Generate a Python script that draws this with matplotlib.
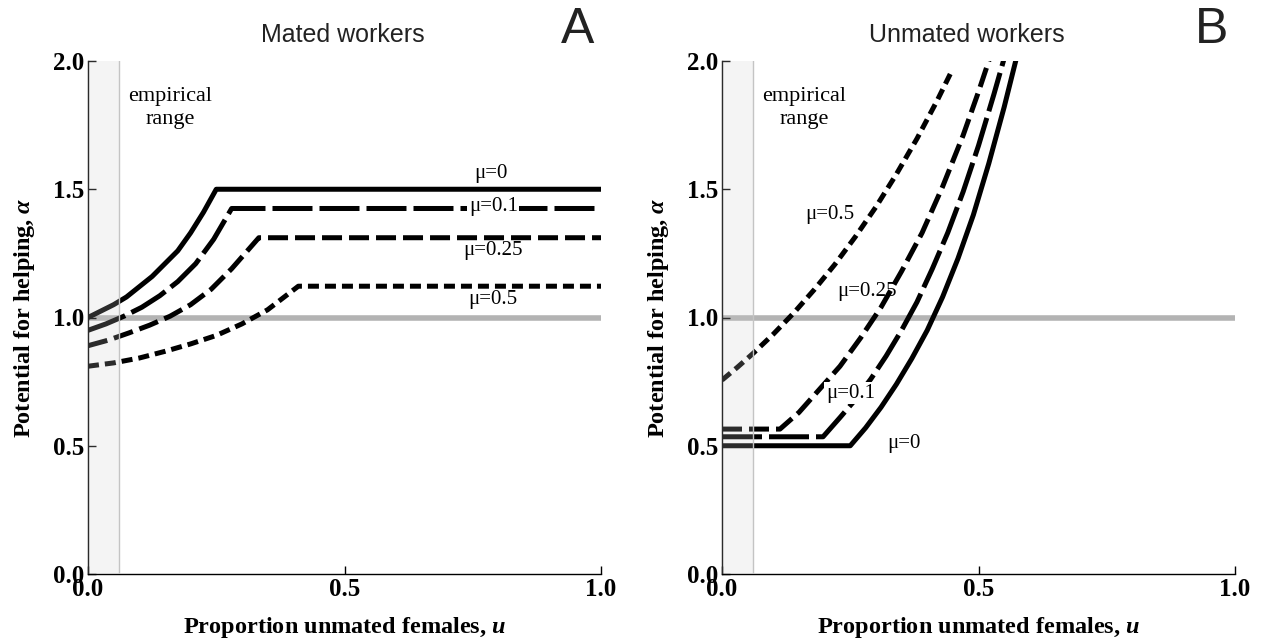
import matplotlib
matplotlib.use("Agg")
import matplotlib.pyplot as plt

# ---------------- data ----------------
# Panel A: mated workers
a_u_mu0 = [0, 0.025, 0.05, 0.075, 0.10, 0.125, 0.15, 0.175, 0.20, 0.225, 0.25, 1.0]
a_al_mu0 = [1.0, 1.025, 1.05, 1.08, 1.12, 1.16, 1.21, 1.26, 1.33, 1.41, 1.50, 1.50]
a_u_mu01 = [0, 0.035, 0.07, 0.105, 0.14, 0.175, 0.21, 0.245, 0.28, 1.0]
a_al_mu01 = [0.95, 0.975, 1.005, 1.04, 1.085, 1.14, 1.21, 1.305, 1.425, 1.425]
a_u_mu025 = [0, 0.04, 0.08, 0.12, 0.16, 0.20, 0.24, 0.28, 0.333, 1.0]
a_al_mu025 = [0.89, 0.912, 0.94, 0.97, 1.005, 1.05, 1.11, 1.19, 1.311, 1.311]
a_u_mu05 = [0, 0.05, 0.10, 0.15, 0.20, 0.25, 0.30, 0.35, 0.41, 1.0]
a_al_mu05 = [0.81, 0.823, 0.842, 0.868, 0.897, 0.93, 0.975, 1.03, 1.122, 1.122]

# Panel B: unmated workers
b_u_mu0 = [0, 0.25, 0.28, 0.31, 0.34, 0.37, 0.40, 0.43, 0.46, 0.49, 0.52, 0.55, 0.575]
b_al_mu0 = [0.5, 0.5, 0.57, 0.65, 0.74, 0.84, 0.95, 1.08, 1.23, 1.40, 1.60, 1.82, 2.02]
b_u_mu01 = [0, 0.197, 0.23, 0.26, 0.29, 0.32, 0.35, 0.38, 0.41, 0.44, 0.47, 0.50, 0.53, 0.55]
b_al_mu01 = [0.535, 0.535, 0.61, 0.68, 0.76, 0.85, 0.95, 1.06, 1.19, 1.33, 1.49, 1.67, 1.87, 2.01]
b_u_mu025 = [0, 0.113, 0.15, 0.19, 0.23, 0.27, 0.31, 0.35, 0.39, 0.43, 0.47, 0.50, 0.525]
b_al_mu025 = [0.565, 0.565, 0.63, 0.72, 0.81, 0.92, 1.04, 1.18, 1.33, 1.51, 1.71, 1.88, 2.03]
b_u_mu05 = [0, 0.03, 0.06, 0.10, 0.14, 0.18, 0.22, 0.26, 0.30, 0.34, 0.38, 0.42, 0.45]
b_al_mu05 = [0.756, 0.806, 0.859, 0.935, 1.018, 1.109, 1.207, 1.315, 1.431, 1.559, 1.697, 1.848, 1.970]

empirical_range = [0.0, 0.06]
reference_alpha = 1.0
ticks = [0.0, 0.5, 1.0, 1.5, 2.0]
xticks = [0.0, 0.5, 1.0]
tick_labels_y = ["0.0", "0.5", "1.0", "1.5", "2.0"]
tick_labels_x = ["0.0", "0.5", "1.0"]
mu_labels = ["μ=0", "μ=0.1", "μ=0.25", "μ=0.5"]

# ---------------- styling ----------------
plt.rcParams["mathtext.fontset"] = "custom"
plt.rcParams["mathtext.rm"] = "Liberation Serif:weight=bold"
plt.rcParams["mathtext.it"] = "Liberation Serif:style=italic:weight=bold"
plt.rcParams["mathtext.bf"] = "Liberation Serif:weight=bold"
plt.rcParams["mathtext.fallback"] = "stix"
SERIF = ["Liberation Serif", "DejaVu Serif"]
SANS = ["Liberation Sans", "DejaVu Sans"]
LW = 3.6
styles = ["-", (0, (8.0, 1.4)), (0, (4.0, 1.4)), (0, (2.2, 1.2))]

fig = plt.figure(figsize=(12.64, 6.44), dpi=100)
W, H = 1264.0, 644.0
axA = fig.add_axes([88 / W, (H - 574) / H, 513 / W, 513 / H])
axB = fig.add_axes([722 / W, (H - 574) / H, 513 / W, 513 / H])


def setup(ax):
    ax.set_xlim(0, 1)
    ax.set_ylim(0, 2)
    for s in ("top", "right"):
        ax.spines[s].set_visible(False)
    for s in ("left", "bottom"):
        ax.spines[s].set_linewidth(1.0)
    ax.set_xticks(xticks)
    ax.set_yticks(ticks)
    ax.set_xticklabels(tick_labels_x, fontfamily=SERIF, fontweight="bold", fontsize=18)
    ax.set_yticklabels(tick_labels_y, fontfamily=SERIF, fontweight="bold", fontsize=18)
    ax.tick_params(direction="in", length=6, width=1.0, pad=3)
    ax.set_xlabel(r"Proportion unmated females, $\mathit{u}$", fontfamily=SERIF,
                  fontweight="bold", fontsize=17.5, labelpad=10)
    ax.set_ylabel(r"Potential for helping, $\mathit{\alpha}$", fontfamily=SERIF,
                  fontweight="bold", fontsize=17.5, labelpad=11)
    ax.axhline(reference_alpha, color="#b3b3b3", lw=4.0, zorder=1)
    ax.axvspan(empirical_range[0], empirical_range[1], color="#cccccc", alpha=0.21,
               lw=0, zorder=5)
    ax.axvline(empirical_range[1], color="#c4c4c4", lw=1.0, zorder=5)
    ax.text(0.16, 1.86, "empirical", fontfamily=SERIF, fontsize=16, ha="center", va="center")
    ax.text(0.16, 1.77, "range", fontfamily=SERIF, fontsize=16, ha="center", va="center")


setup(axA)
setup(axB)

A_series = [(a_u_mu0, a_al_mu0), (a_u_mu01, a_al_mu01), (a_u_mu025, a_al_mu025), (a_u_mu05, a_al_mu05)]
B_series = [(b_u_mu0, b_al_mu0), (b_u_mu01, b_al_mu01), (b_u_mu025, b_al_mu025), (b_u_mu05, b_al_mu05)]

for (u, al), ls in zip(A_series, styles):
    axA.plot(u, al, color="black", lw=LW, linestyle=ls, zorder=2,
             solid_capstyle="butt", dash_capstyle="butt", solid_joinstyle="round")
for (u, al), ls in zip(B_series, styles):
    axB.plot(u, al, color="black", lw=LW, linestyle=ls, zorder=2,
             solid_capstyle="butt", dash_capstyle="butt", solid_joinstyle="round")

# labels panel A
lab_kw = dict(fontfamily=SERIF, fontsize=15, ha="center", va="center")
axA.text(0.785, 1.563, mu_labels[0], **lab_kw, zorder=3)
axA.text(0.79, 1.433, mu_labels[1], **lab_kw, zorder=3,
         bbox=dict(facecolor="white", edgecolor="none", pad=1.0))
axA.text(0.79, 1.26, mu_labels[2], **lab_kw, zorder=3)
axA.text(0.79, 1.071, mu_labels[3], **lab_kw, zorder=3)

# labels panel B
axB.text(0.355, 0.51, mu_labels[0], **lab_kw, zorder=3)
axB.text(0.25, 0.705, mu_labels[1], **lab_kw, zorder=3,
         bbox=dict(facecolor="white", edgecolor="none", pad=1.0))
axB.text(0.283, 1.10, mu_labels[2], **lab_kw, zorder=1.5)
axB.text(0.21, 1.40, mu_labels[3], **lab_kw, zorder=3)

# titles and panel letters
fig.text(343 / W, 1 - 35 / H, "Mated workers", fontfamily=SANS, fontsize=18,
         ha="center", va="center", color="#222222")
fig.text(967 / W, 1 - 35 / H, "Unmated workers", fontfamily=SANS, fontsize=18,
         ha="center", va="center", color="#222222")
fig.text(578 / W, 1 - 30 / H, "A", fontfamily=SANS, fontsize=36, ha="center",
         va="center", color="#222222")
fig.text(1212 / W, 1 - 30 / H, "B", fontfamily=SANS, fontsize=36, ha="center",
         va="center", color="#222222")

fig.savefig("out.png", dpi=100)
